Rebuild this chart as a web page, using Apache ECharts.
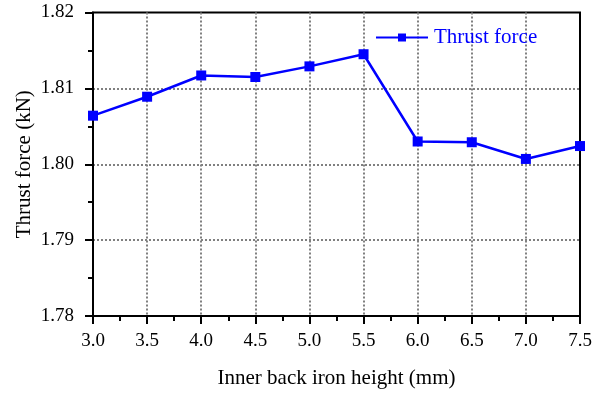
<!DOCTYPE html>
<html>
<head>
<meta charset="utf-8">
<script src="https://cdn.jsdelivr.net/npm/echarts@6/dist/echarts.min.js"></script>
<style>
  html, body { margin: 0; padding: 0; background: #fff; }
  #chart { width: 603px; height: 397px; }
</style>
</head>
<body>
<div id="chart"></div>
<script>
// Inner back iron height (mm) and the resulting thrust force (kN)
const heights = [3.0, 3.5, 4.0, 4.5, 5.0, 5.5, 6.0, 6.5, 7.0, 7.5];
const thrust = [1.8064, 1.8089, 1.8117, 1.8115, 1.8129, 1.8145, 1.8030, 1.8029, 1.8007, 1.8024];
const seriesName = 'Thrust force';
const xTitle = 'Inner back iron height (mm)';
const yTitle = 'Thrust force (kN)';

const serif = '"Liberation Serif", "Times New Roman", serif';
const gridLine = {
  show: true, showMinLine: false, showMaxLine: false,
  lineStyle: { color: '#808080', type: [2, 2], width: 2 }
};

const chart = echarts.init(document.getElementById('chart'), null, { renderer: 'canvas' });
chart.setOption({
  animation: false,
  backgroundColor: '#fff',
  grid: {
    left: 93, right: 23, top: 12.5, bottom: 81,
    show: true, borderColor: '#000', borderWidth: 2, backgroundColor: 'transparent'
  },
  legend: {
    data: [seriesName],
    left: 370, top: 22,
    itemWidth: 52, itemHeight: 10, itemGap: 0,
    textStyle: { fontFamily: serif, fontSize: 21, color: '#0000ff', padding: [0, 0, 0, 1] }
  },
  xAxis: {
    type: 'value',
    min: 3.0, max: 7.5, interval: 0.5,
    name: xTitle, nameLocation: 'middle', nameGap: 52, nameMoveOverlap: false,
    nameTextStyle: { fontFamily: serif, fontSize: 21, color: '#000' },
    axisLine: { show: true, onZero: false, lineStyle: { color: '#000', width: 2 } },
    axisTick: { show: true, inside: false, length: 8, lineStyle: { color: '#000', width: 2 } },
    minorTick: { show: true, splitNumber: 2, length: 5, lineStyle: { color: '#000', width: 2 } },
    axisLabel: { fontFamily: serif, fontSize: 19, color: '#000', margin: 16,
      formatter: v => v.toFixed(1) },
    splitLine: gridLine
  },
  yAxis: {
    type: 'value',
    min: 1.78, max: 1.82, interval: 0.01,
    name: yTitle, nameLocation: 'middle', nameGap: 58, nameRotate: 90, nameMoveOverlap: false,
    nameTextStyle: { fontFamily: serif, fontSize: 21, color: '#000' },
    axisLine: { show: true, lineStyle: { color: '#000', width: 2 } },
    axisTick: { show: true, inside: false, length: 8, lineStyle: { color: '#000', width: 2 } },
    minorTick: { show: true, splitNumber: 2, length: 5, lineStyle: { color: '#000', width: 2 } },
    axisLabel: { fontFamily: serif, fontSize: 19, color: '#000', margin: 19,
      formatter: v => v.toFixed(2) },
    splitLine: gridLine
  },
  series: [{
    name: seriesName,
    type: 'line',
    data: heights.map((h, i) => [h, thrust[i]]),
    symbol: 'rect', symbolSize: 10,
    showAllSymbol: true,
    clip: false,
    lineStyle: { color: '#0000ff', width: 2.5 },
    itemStyle: { color: '#0000ff' }
  }]
});
</script>
</body>
</html>
